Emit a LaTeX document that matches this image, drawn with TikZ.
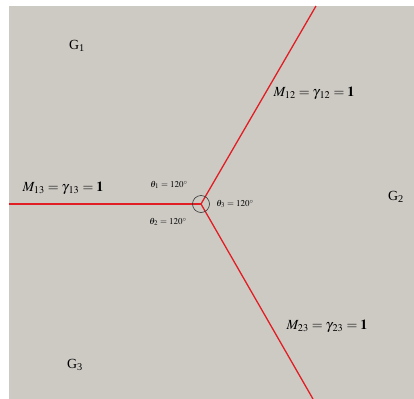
\documentclass[tikz,border=0pt]{standalone}
\usepackage{mathptmx}
\usepackage{fontspec}
\setmainfont{Liberation Serif}
\definecolor{bg}{RGB}{205,202,196}
\definecolor{bnd}{RGB}{225,30,35}
\begin{document}
\begin{tikzpicture}[x=1bp,y=-1bp,
  boundary/.style={draw=bnd,line width=1.3bp},
  grain/.style={font=\fontsize{14}{16}\selectfont,inner sep=0pt},
  mlabel/.style={font=\fontsize{14}{16}\selectfont,inner sep=0pt},
  tlabel/.style={font=\fontsize{9}{10}\selectfont,inner sep=0pt}]
\useasboundingbox (0,0) rectangle (414,399);
\fill[bg] (9,6) rectangle (414,399);
\coordinate (J) at (201,204);
\coordinate (T) at (316,6);
\coordinate (B) at (313,399);
\coordinate (L) at (9,204);
\draw[boundary] (J) -- (T);
\draw[boundary] (J) -- (B);
\draw[boundary] (J) -- (L);
\node[draw=black!80,line width=0.6bp,circle,minimum size=17bp,inner sep=0pt] (c) at (J) {};
\node[grain] (g1) at (77,46) {G\textsubscript{1}};
\node[grain] (g2) at (396,197) {G\textsubscript{2}};
\node[grain] (g3) at (75,365) {G\textsubscript{3}};
\node[mlabel] (m12) at (314,93) {$M_{12}=\gamma_{\,12}=\mathbf{1}$};
\node[mlabel] (m13) at (63,188) {$M_{13}=\gamma_{\,13}=\mathbf{1}$};
\node[mlabel] (m23) at (327,326) {$M_{23}=\gamma_{\,23}=\mathbf{1}$};
\node[tlabel] (t1) at (169,185) {$\theta_1=120^\circ$};
\node[tlabel] (t3) at (235,204) {$\theta_3=120^\circ$};
\node[tlabel] (t2) at (168,222) {$\theta_2=120^\circ$};
\end{tikzpicture}
\end{document}
